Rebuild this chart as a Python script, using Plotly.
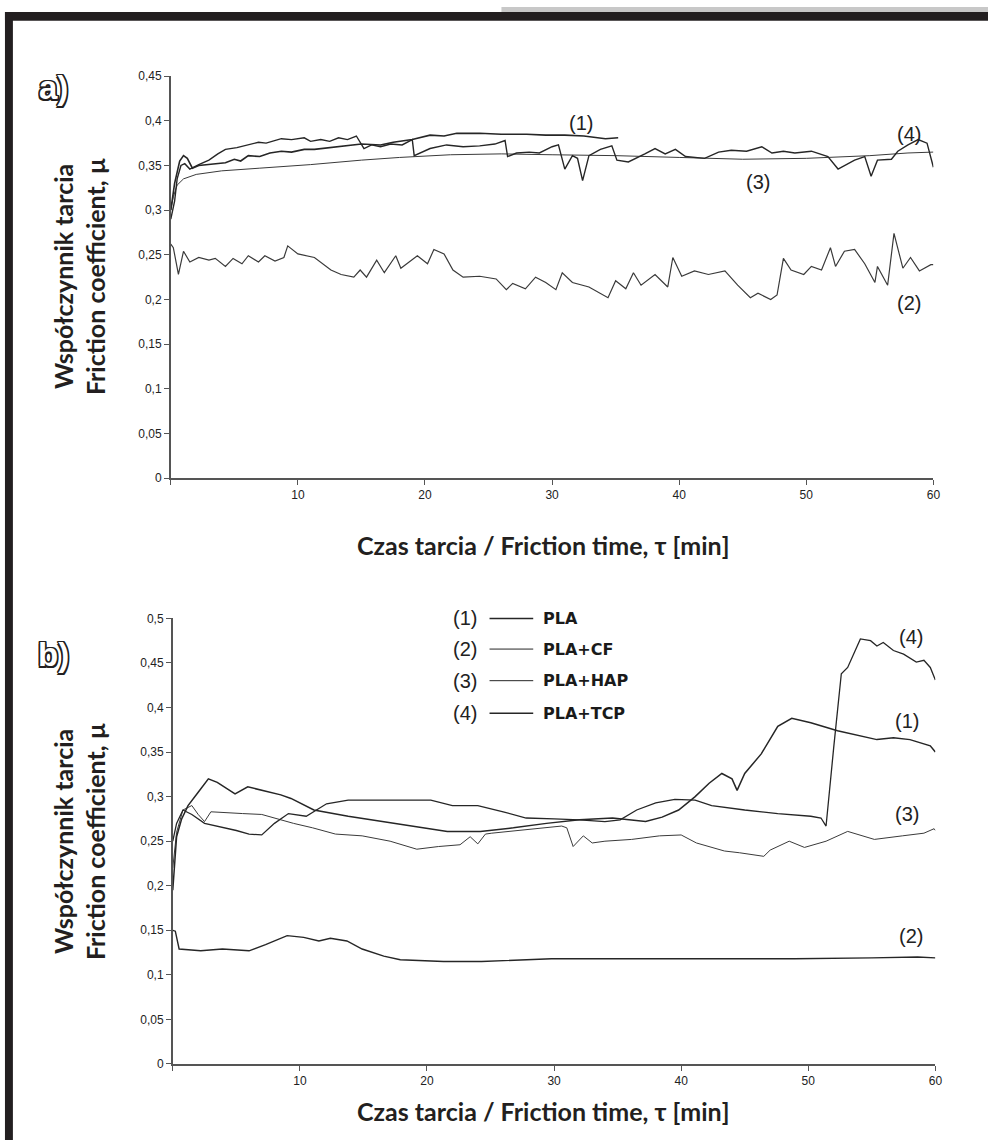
import plotly.graph_objects as go

# ---------------- Panel a data ----------------
a1_t = [0, 0.3, 0.7, 1.0, 1.3, 1.7, 2.2, 3.0, 4.3, 5.0, 5.5, 6.1, 7.0, 7.8, 8.7, 9.5, 10.5, 11.3, 12.5,
        13.9, 15.0, 16.5, 17.5, 19.0, 20.4, 21.5, 22.5, 24.3, 26, 28, 29.5, 31, 32.5, 34.2, 35.2]
a1_y = [0.300, 0.330, 0.355, 0.361, 0.358, 0.347, 0.350, 0.351, 0.353, 0.357, 0.355, 0.361, 0.360, 0.364,
        0.366, 0.365, 0.368, 0.368, 0.370, 0.373, 0.374, 0.373, 0.376, 0.379, 0.384, 0.383, 0.386, 0.386,
        0.385, 0.385, 0.384, 0.384, 0.383, 0.380, 0.381]

a2_t = [0, 0.2, 0.6, 1.0, 1.5, 2.2, 3.0, 3.5, 4.3, 4.9, 5.6, 6.1, 6.9, 7.4, 8.2, 8.9, 9.2, 10.0, 11.3, 12.6,
        13.4, 14.4, 14.9, 15.4, 16.2, 16.8, 17.7, 18.1, 19.4, 20.2, 20.7, 21.5, 22.2, 23.0, 24.3, 25.6, 26.4,
        26.9, 27.9, 28.7, 29.5, 30.3, 30.8, 31.6, 32.9, 34.4, 35.0, 35.8, 36.4, 37.0, 38.1, 39.1, 39.5, 40.2,
        41.2, 42.3, 43.6, 44.6, 45.6, 46.2, 47.2, 47.7, 48.2, 48.8, 49.8, 50.4, 51.2, 51.9, 52.3, 53.0, 53.8,
        54.6, 55.4, 55.6, 56.4, 56.9, 57.6, 58.2, 58.9, 59.8, 60.0]
a2_y = [0.262, 0.258, 0.228, 0.254, 0.242, 0.247, 0.244, 0.246, 0.237, 0.246, 0.240, 0.249, 0.242, 0.249,
        0.243, 0.247, 0.260, 0.251, 0.247, 0.233, 0.228, 0.225, 0.233, 0.225, 0.244, 0.230, 0.249, 0.235,
        0.249, 0.240, 0.256, 0.251, 0.233, 0.225, 0.226, 0.223, 0.211, 0.218, 0.212, 0.225, 0.219, 0.211,
        0.230, 0.219, 0.214, 0.202, 0.221, 0.212, 0.230, 0.216, 0.228, 0.214, 0.247, 0.226, 0.232, 0.228,
        0.232, 0.216, 0.202, 0.207, 0.200, 0.205, 0.246, 0.233, 0.228, 0.237, 0.233, 0.258, 0.237, 0.254,
        0.256, 0.240, 0.219, 0.237, 0.216, 0.274, 0.235, 0.247, 0.232, 0.239, 0.239]

a3_t = [0, 0.2, 0.5, 1.0, 2.0, 4.0, 7.0, 11.0, 15.0, 18.0, 22.0, 26.0, 30.0, 35.0, 40.0, 45.0, 50.0, 55.0, 58.0, 60.0]
a3_y = [0.300, 0.315, 0.328, 0.335, 0.340, 0.344, 0.347, 0.351, 0.356, 0.359, 0.362, 0.363, 0.362, 0.361,
        0.359, 0.357, 0.358, 0.361, 0.364, 0.365]

a4_t = [0, 0.3, 0.5, 0.8, 1.1, 1.5, 2.2, 3.0, 3.7, 4.3, 5.2, 6.1, 6.9, 7.5, 8.7, 9.5, 10.5, 11.0, 11.8, 12.5,
        13.2, 13.9, 14.6, 15.2, 15.8, 16.5, 17.3, 18.2, 19.0, 19.15, 20.4, 21.7, 23.0, 24.3, 25.5, 26.3, 26.5,
        27.2, 28.2, 29.0, 30.0, 30.5, 31.0, 31.6, 32.0, 32.4, 32.9, 33.8, 34.7, 35.1, 36.0, 37.3, 38.1, 38.9,
        39.7, 40.5, 42.0, 43.1, 44.1, 45.3, 46.5, 47.3, 48.2, 49.1, 50.4, 51.7, 52.5, 53.8, 54.6, 55.1, 55.6,
        56.7, 57.2, 58.0, 58.8, 59.5, 60.0]
a4_y = [0.290, 0.310, 0.335, 0.350, 0.352, 0.346, 0.351, 0.356, 0.363, 0.368, 0.370, 0.373, 0.376, 0.375,
        0.380, 0.379, 0.381, 0.377, 0.379, 0.377, 0.381, 0.379, 0.383, 0.369, 0.373, 0.371, 0.374, 0.373,
        0.379, 0.361, 0.369, 0.373, 0.371, 0.372, 0.374, 0.378, 0.360, 0.364, 0.365, 0.364, 0.371, 0.373,
        0.346, 0.361, 0.358, 0.333, 0.361, 0.368, 0.372, 0.356, 0.354, 0.363, 0.369, 0.363, 0.368, 0.360,
        0.358, 0.365, 0.367, 0.366, 0.371, 0.364, 0.366, 0.364, 0.366, 0.360, 0.346, 0.356, 0.360, 0.338,
        0.356, 0.357, 0.366, 0.373, 0.379, 0.375, 0.348]

# ---------------- Panel b data ----------------
b1_t = [0, 0.3, 0.7, 1.2, 2.0, 2.8, 3.5, 4.9, 5.9, 7.0, 8.5, 9.3, 11.1, 13.8, 16.5, 19.0, 21.6, 24.2, 26.8,
        29.4, 32.0, 34.6, 37.2, 38.5, 39.8, 41.1, 42.2, 43.2, 44.0, 44.4, 45.0, 46.3, 47.6, 48.7, 50.2, 52.3,
        54.1, 55.4, 56.7, 58.0, 59.6, 60.0]
b1_y = [0.195, 0.255, 0.275, 0.290, 0.305, 0.320, 0.316, 0.303, 0.311, 0.307, 0.302, 0.298, 0.285, 0.278,
        0.272, 0.267, 0.261, 0.261, 0.265, 0.270, 0.274, 0.276, 0.272, 0.277, 0.285, 0.300, 0.315, 0.326,
        0.320, 0.307, 0.326, 0.348, 0.379, 0.388, 0.383, 0.374, 0.368, 0.364, 0.366, 0.364, 0.357, 0.350]

b2_t = [0, 0.2, 0.5, 2.2, 3.9, 5, 6.0, 7.3, 9.0, 10.3, 11.5, 12.4, 13.7, 14.9, 16.6, 17.9, 21.3, 24.3, 29.8,
        35, 40.4, 48.9, 55, 58.6, 60]
b2_y = [0.150, 0.149, 0.129, 0.127, 0.129, 0.128, 0.127, 0.134, 0.144, 0.142, 0.138, 0.141, 0.138, 0.129,
        0.121, 0.117, 0.115, 0.115, 0.118, 0.118, 0.118, 0.118, 0.119, 0.120, 0.119]

b3_t = [0, 0.3, 0.8, 1.5, 2.0, 2.5, 3.0, 4.0, 5.5, 7.0, 8.5, 9.5, 11, 12.8, 14.9, 17.1, 19.2, 20.9, 22.6,
        23.4, 24.0, 24.6, 25.1, 27.7, 30.6, 31.0, 31.5, 32.3, 33, 34, 36.1, 38.3, 40, 41.2, 43.4, 44.6, 46.5,
        47, 48.5, 49.7, 51.4, 53.1, 55.2, 57.4, 59.1, 59.9, 60]
b3_y = [0.220, 0.260, 0.285, 0.290, 0.280, 0.272, 0.283, 0.282, 0.281, 0.280, 0.274, 0.270, 0.265, 0.258,
        0.256, 0.250, 0.241, 0.244, 0.246, 0.255, 0.247, 0.258, 0.259, 0.263, 0.267, 0.265, 0.244, 0.256,
        0.248, 0.250, 0.252, 0.256, 0.257, 0.248, 0.239, 0.237, 0.233, 0.240, 0.250, 0.243, 0.250, 0.261,
        0.252, 0.256, 0.259, 0.264, 0.262]

b4_t = [0, 0.3, 0.8, 1.5, 2.5, 3.5, 5.0, 6.0, 7.0, 8.0, 9.1, 10.5, 12.1, 13.8, 17, 20.3, 22, 24, 26, 27.8,
        30, 32, 34, 35.2, 36.5, 38, 39.5, 41.1, 42.4, 45, 47.6, 50.2, 51.0, 51.4, 52.0, 52.6, 53.1, 54.1,
        54.9, 55.4, 55.9, 56.7, 57.5, 58.5, 59.1, 59.6, 60]
b4_y = [0.250, 0.270, 0.285, 0.280, 0.270, 0.267, 0.262, 0.258, 0.257, 0.270, 0.281, 0.278, 0.292, 0.296,
        0.296, 0.296, 0.290, 0.290, 0.283, 0.276, 0.275, 0.274, 0.272, 0.274, 0.285, 0.293, 0.297, 0.296,
        0.290, 0.285, 0.281, 0.278, 0.276, 0.267, 0.355, 0.438, 0.445, 0.477, 0.475, 0.469, 0.473, 0.464,
        0.460, 0.451, 0.453, 0.445, 0.431]

series_labels = ["(1)", "(2)", "(3)", "(4)"]
legend_names = ["PLA", "PLA+CF", "PLA+HAP", "PLA+TCP"]

x_tickvals = [0, 10, 20, 30, 40, 50, 60]
x_ticktext = ["", "10", "20", "30", "40", "50", "60"]
ya_tickvals = [0, 0.05, 0.1, 0.15, 0.2, 0.25, 0.3, 0.35, 0.4, 0.45]
ya_ticktext = ["0", "0,05", "0,1", "0,15", "0,2", "0,25", "0,3", "0,35", "0,4", "0,45"]
yb_tickvals = [0, 0.05, 0.1, 0.15, 0.2, 0.25, 0.3, 0.35, 0.4, 0.45, 0.5]
yb_ticktext = ["0", "0,05", "0,1", "0,15", "0,2", "0,25", "0,3", "0,35", "0,4", "0,45", "0,5"]

W, H = 995, 1147
def px(x):
    return x / W
def py(y):
    return 1 - y / H

DARK = "#262626"
THIN = "#3a3a3a"

fig = go.Figure()

def add(t, y, xa, ya, width, color):
    fig.add_trace(go.Scatter(x=t, y=y, xaxis=xa, yaxis=ya, mode="lines",
                             line=dict(color=color, width=width), showlegend=False,
                             hoverinfo="skip"))

add(a3_t, a3_y, "x", "y", 1.0, THIN)
add(a2_t, a2_y, "x", "y", 1.2, THIN)
add(a4_t, a4_y, "x", "y", 1.4, DARK)
add(a1_t, a1_y, "x", "y", 1.6, DARK)

add(b3_t, b3_y, "x2", "y2", 1.0, THIN)
add(b2_t, b2_y, "x2", "y2", 1.4, DARK)
add(b4_t, b4_y, "x2", "y2", 1.3, DARK)
add(b1_t, b1_y, "x2", "y2", 1.5, DARK)

axis_common = dict(showgrid=False, zeroline=False, showline=True, linecolor="#555", linewidth=1.5,
                   ticks="outside", ticklen=5, tickwidth=1.2, tickcolor="#555")
ytick_font = dict(family="Liberation Sans", size=12, color="#222")
xtick_font = dict(family="Liberation Sans", size=12, color="#222")

fig.update_layout(
    width=W, height=H, margin=dict(l=0, r=0, t=0, b=0),
    paper_bgcolor="white", plot_bgcolor="white", showlegend=False,
    xaxis=dict(domain=[px(172), px(940)], range=[0, 60], anchor="y",
               tickvals=x_tickvals, ticktext=x_ticktext, tickfont=xtick_font, **axis_common),
    yaxis=dict(domain=[py(477), py(70)], range=[0, 0.45], anchor="x",
               tickvals=ya_tickvals, ticktext=ya_ticktext, tickfont=ytick_font, **axis_common),
    xaxis2=dict(domain=[px(174), px(942)], range=[0, 60], anchor="y2",
                tickvals=x_tickvals, ticktext=x_ticktext, tickfont=xtick_font, **axis_common),
    yaxis2=dict(domain=[py(1070), py(619)], range=[0, 0.5], anchor="x2",
                tickvals=yb_tickvals, ticktext=yb_ticktext, tickfont=ytick_font, **axis_common),
)

# frame decoration
shapes = [
    dict(type="rect", xref="paper", yref="paper", x0=px(505), x1=1, y0=py(5), y1=1,
         fillcolor="#c8c8c8", line=dict(width=0), layer="above"),
    dict(type="rect", xref="paper", yref="paper", x0=px(5), x1=1, y0=py(14), y1=py(5),
         fillcolor="#231f20", line=dict(width=0), layer="above"),
    dict(type="rect", xref="paper", yref="paper", x0=px(5), x1=px(13), y0=0, y1=py(5),
         fillcolor="#231f20", line=dict(width=0), layer="above"),
]

# legend of panel b (drawn manually)
leg_y = [619, 650, 682, 715]
leg_w = [1.6, 1.0, 1.0, 1.3]
annotations = []
for i in range(4):
    shapes.append(dict(type="line", xref="paper", yref="paper", x0=px(493), x1=px(537),
                       y0=py(leg_y[i]), y1=py(leg_y[i]), line=dict(color=DARK, width=leg_w[i])))
    annotations.append(dict(text=series_labels[i], xref="paper", yref="paper", x=px(468), y=py(leg_y[i]),
                            showarrow=False, xanchor="center", yanchor="middle",
                            font=dict(family="Liberation Sans", size=20, color="#222")))
    annotations.append(dict(text="<b>" + legend_names[i] + "</b>", xref="paper", yref="paper",
                            x=px(545), y=py(leg_y[i]), showarrow=False, xanchor="left", yanchor="middle",
                            font=dict(family="DejaVu Sans", size=16, color="#1a1a1a")))

# curve labels
lab_font = dict(family="Liberation Sans", size=20, color="#222")
curve_labels = [
    ("x", "y", 32.3, 0.398, "(1)"), ("x", "y", 58.1, 0.385, "(4)"),
    ("x", "y", 46.2, 0.331, "(3)"), ("x", "y", 58.1, 0.196, "(2)"),
    ("x2", "y2", 58.1, 0.479, "(4)"), ("x2", "y2", 57.8, 0.385, "(1)"),
    ("x2", "y2", 57.8, 0.280, "(3)"), ("x2", "y2", 58.1, 0.144, "(2)"),
]
for xr, yr, xv, yv, txt in curve_labels:
    annotations.append(dict(text=txt, xref=xr, yref=yr, x=xv, y=yv, showarrow=False,
                            xanchor="center", yanchor="middle", font=lab_font))

# axis titles
ytitle_font = dict(family="Lato", size=25, color="#231f20")
xtitle_font = dict(family="Lato", size=25, color="#231f20")
ytitle = "<b>Współczynnik tarcia</b><br><b>Friction coefficient, µ</b>"
xtitle = "<b>Czas tarcia / Friction time, τ [min]</b>"
for cy in (273, 845):
    annotations.append(dict(text=ytitle, xref="paper", yref="paper", x=px(80), y=py(cy), showarrow=False,
                            textangle=-90, xanchor="center", yanchor="middle", font=ytitle_font))
for cy in (545, 1118):
    annotations.append(dict(text=xtitle, xref="paper", yref="paper", x=px(547), y=py(cy), showarrow=False,
                            xanchor="center", yanchor="middle", font=xtitle_font))

# panel letters (outlined)
oc = "#231f20"
outline = ("-1.5px -1.5px 0 %s, 1.5px -1.5px 0 %s, -1.5px 1.5px 0 %s, 1.5px 1.5px 0 %s, "
           "0 -1.5px 0 %s, 0 1.5px 0 %s, -1.5px 0 0 %s, 1.5px 0 0 %s") % ((oc,) * 8)
for txt, cy in (("<b>a)</b>", 82), ("<b>b)</b>", 655)):
    annotations.append(dict(text=txt, xref="paper", yref="paper", x=px(54), y=py(cy), showarrow=False,
                            xanchor="center", yanchor="middle",
                            font=dict(family="Liberation Sans", size=33, color="white", shadow=outline)))

fig.update_layout(shapes=shapes, annotations=annotations)
fig.write_html("out.html")
